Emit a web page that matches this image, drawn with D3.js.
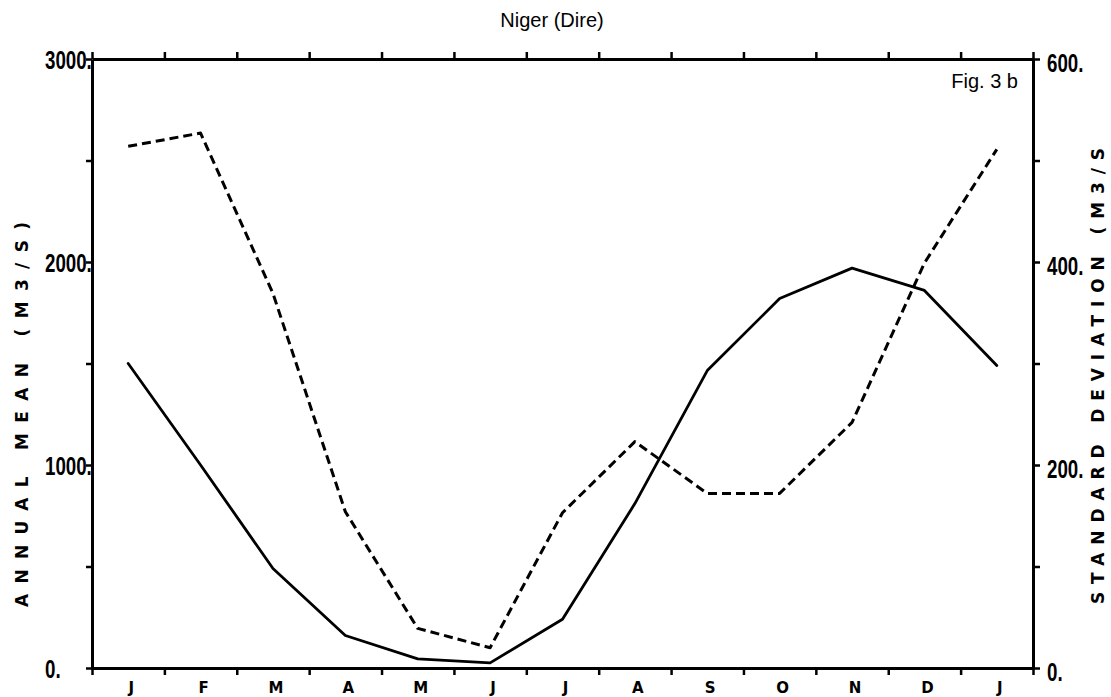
<!DOCTYPE html>
<html>
<head>
<meta charset="utf-8">
<script src="https://cdn.jsdelivr.net/npm/d3@7/dist/d3.min.js"></script>
<style>
  html, body { margin: 0; padding: 0; background: #fff; }
  svg { display: block; }
</style>
</head>
<body>
<svg id="chart" width="1111" height="697"></svg>
<script>
// Niger at Dire: monthly mean flow (left axis) and its standard deviation (right axis), m3/s
const months = ["J", "F", "M", "A", "M", "J", "J", "A", "S", "O", "N", "D", "J"];
const meanFlow = [1500, 1000, 490, 160, 45, 25, 240, 810, 1465, 1820, 1970, 1860, 1490];
const stdDev = [514, 527, 369, 154, 39, 20, 153, 223, 172, 172, 242, 399, 511];

const meanTicks = [0, 500, 1000, 1500, 2000, 2500, 3000];
const meanTickLabels = [0, 1000, 2000, 3000];
const sdTicks = [0, 100, 200, 300, 400, 500, 600];
const sdTickLabels = [0, 200, 400, 600];

const titleText = "Niger (Dire)";
const figText = "Fig. 3 b";
const leftTitle = "ANNUAL MEAN (M3/S)";
const rightTitle = "STANDARD DEVIATION (M3/S";

const W = 1111, H = 697;
const margin = { left: 92, right: 78, top: 59, bottom: 29 };
const xL = margin.left, xR = W - margin.right;
const yB = H - margin.bottom, yT = margin.top;

const svg = d3.select("#chart");

// month boundaries carry the ticks, month centres carry the points
const xEdge = d3.scaleLinear().domain([0, months.length]).range([xL, xR]);
const xMid = i => xEdge(i + 0.5);
const yMean = d3.scaleLinear().domain([0, 3000]).range([yB, yT]);
const ySd = d3.scaleLinear().domain([0, 600]).range([yB, yT]);

const plotterFont = "'Liberation Sans Narrow', 'Liberation Sans', sans-serif";
const letterFont = "'DejaVu Sans', sans-serif";

function styleAxis(g) {
  g.select(".domain").attr("stroke", "#000").attr("stroke-width", 3);
  g.selectAll(".tick line").attr("stroke", "#000").attr("stroke-width", 2.5);
}

// top and bottom axes: unlabelled ticks at month boundaries
const edgeTicks = d3.range(0, months.length + 1);
svg.append("g")
  .attr("transform", `translate(0,${yB})`)
  .call(d3.axisBottom(xEdge).tickValues(edgeTicks).tickSize(7).tickSizeOuter(0).tickFormat(""))
  .call(styleAxis);
svg.append("g")
  .attr("transform", `translate(0,${yT})`)
  .call(d3.axisTop(xEdge).tickValues(edgeTicks).tickSize(7).tickSizeOuter(0).tickFormat(""))
  .call(styleAxis);

// left axis: annual mean
const leftAxis = svg.append("g")
  .attr("transform", `translate(${xL},0)`)
  .call(d3.axisLeft(yMean).tickValues(meanTicks).tickSize(6).tickSizeOuter(0)
    .tickFormat(d => meanTickLabels.includes(d) ? d + "." : ""))
  .call(styleAxis);
leftAxis.selectAll(".tick text")
  .attr("x", null).attr("dy", "0.36em")
  .attr("text-anchor", "start")
  .attr("transform", "translate(-47,0) scale(0.72,1)")
  .style("font-family", plotterFont).style("font-weight", "bold")
  .style("font-size", "26px").attr("fill", "#000");

// right axis: standard deviation
const rightAxis = svg.append("g")
  .attr("transform", `translate(${xR},0)`)
  .call(d3.axisRight(ySd).tickValues(sdTicks).tickSize(7).tickSizeOuter(0)
    .tickFormat(d => sdTickLabels.includes(d) ? d + "." : ""))
  .call(styleAxis);
rightAxis.selectAll(".tick text")
  .attr("x", null).attr("dy", "0.36em")
  .attr("text-anchor", "start")
  .attr("transform", "translate(14,3) scale(0.72,1)")
  .style("font-family", plotterFont).style("font-weight", "bold")
  .style("font-size", "26px").attr("fill", "#000");

// month letters under the frame
svg.append("g").selectAll("text")
  .data(months)
  .join("text")
  .attr("x", (d, i) => xMid(i) + 3)
  .attr("y", 693)
  .attr("text-anchor", "middle")
  .style("font-family", letterFont).style("font-weight", "bold").style("font-size", "15px")
  .text(d => d);

// series lines
const meanLine = d3.line().x((d, i) => xMid(i)).y(d => yMean(d));
const sdLine = d3.line().x((d, i) => xMid(i)).y(d => ySd(d));

svg.append("path")
  .datum(meanFlow)
  .attr("d", meanLine)
  .attr("fill", "none").attr("stroke", "#000")
  .attr("stroke-width", 2.8).attr("stroke-linejoin", "round").attr("stroke-linecap", "round");

svg.append("path")
  .datum(stdDev)
  .attr("d", sdLine)
  .attr("fill", "none").attr("stroke", "#000")
  .attr("stroke-width", 3).attr("stroke-dasharray", "9,5")
  .attr("stroke-linejoin", "round");

// titles
svg.append("text")
  .attr("x", 552).attr("y", 27)
  .attr("text-anchor", "middle")
  .style("font-family", "'Liberation Sans', Arial, sans-serif").style("font-size", "20px")
  .text(titleText);

svg.append("text")
  .attr("x", 1018).attr("y", 88)
  .attr("text-anchor", "end")
  .style("font-family", "'Liberation Sans', Arial, sans-serif").style("font-size", "20px")
  .text(figText);

svg.append("text")
  .attr("transform", "translate(28,607) rotate(-90)")
  .attr("textLength", 385).attr("lengthAdjust", "spacing")
  .style("font-family", letterFont).style("font-weight", "bold").style("font-size", "17px")
  .text(leftTitle);

svg.append("text")
  .attr("transform", "translate(1104,604) rotate(-90)")
  .attr("textLength", 456).attr("lengthAdjust", "spacing")
  .style("font-family", letterFont).style("font-weight", "bold").style("font-size", "17px")
  .text(rightTitle);
</script>
</body>
</html>
